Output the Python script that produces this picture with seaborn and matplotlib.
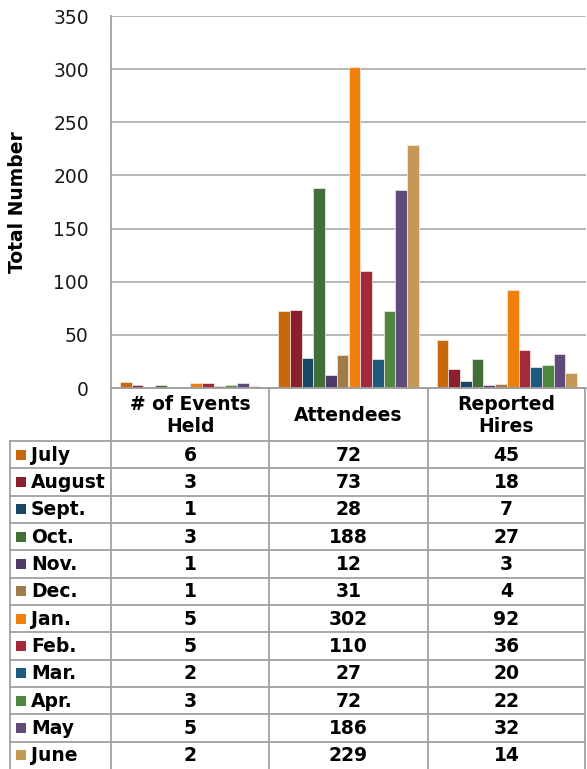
import matplotlib
matplotlib.use("Agg")
import matplotlib.pyplot as plt
import seaborn as sns
import pandas as pd
from matplotlib.patches import Rectangle

months = ["July", "August", "Sept.", "Oct.", "Nov.", "Dec.", "Jan.", "Feb.",
          "Mar.", "Apr.", "May", "June"]
categories = ["# of Events\nHeld", "Attendees", "Reported\nHires"]
events_held = [6, 3, 1, 3, 1, 1, 5, 5, 2, 3, 5, 2]
attendees = [72, 73, 28, 188, 12, 31, 302, 110, 27, 72, 186, 229]
reported_hires = [45, 18, 7, 27, 3, 4, 92, 36, 20, 22, 32, 14]
colors = ["#C8680A", "#8A1F2E", "#184766", "#426F37", "#4E3A66", "#9F7C4A",
          "#F0800D", "#A22A3A", "#1E5A80", "#4E8840", "#604A7C", "#C59858"]
yticks = [0, 50, 100, 150, 200, 250, 300, 350]

series = [events_held, attendees, reported_hires]
rows = []
for ci, cat in enumerate(categories):
    for mi, m in enumerate(months):
        rows.append({"Category": cat, "Month": m, "Value": series[ci][mi]})
df = pd.DataFrame(rows)

sns.set_style("white")
plt.rcParams["font.family"] = ["DejaVu Sans"]
plt.rcParams["text.color"] = "black"

W, H = 587, 769
fig = plt.figure(figsize=(W / 100, H / 100), dpi=100)

def fx(px):
    return px / W

def fy(py):
    return 1 - py / H

ax_left, ax_right, ax_top, ax_bot = 111, 586, 16, 388
ax = fig.add_axes([fx(ax_left), fy(ax_bot), fx(ax_right - ax_left), (ax_bot - ax_top) / H])
ax.set_facecolor("none")

sns.barplot(data=df, x="Category", y="Value", hue="Month", hue_order=months,
            palette=colors, width=0.886, ax=ax, legend=False,
            edgecolor="#F4EDE4", linewidth=0.5, saturation=1)

ax.set_ylim(0, 350)
ax.set_yticks(yticks)
ax.set_yticklabels([str(t) for t in yticks], fontsize=13.5, color="#1A1A1A")
ax.tick_params(axis="y", length=0, pad=16)
ax.set_xticks([])
ax.set_xlabel("")
ax.set_ylabel("Total Number", fontsize=13.5, fontweight="bold", color="black")
ax.yaxis.set_label_coords((27 - ax_left) / (ax_right - ax_left), 0.5)
ax.set_xlim(-0.5, 2.5)
ax.grid(axis="y", color="#B0B0B0", linewidth=1.3)
ax.set_axisbelow(True)
for s in ["top", "right"]:
    ax.spines[s].set_visible(False)
ax.spines["left"].set_color("#A0A0A0")
ax.spines["left"].set_linewidth(1.3)
ax.spines["bottom"].set_color("#A0A0A0")
ax.spines["bottom"].set_linewidth(1.3)

# table overlay in pixel coordinates
tab = fig.add_axes([0, 0, 1, 1], zorder=-1)
tab.set_xlim(0, W)
tab.set_ylim(H, 0)
tab.axis("off")

lc = "#A0A0A0"
lw = 1.3
col_x = [111, 269, 428, 585]
header_top, header_bot = 388, 441
row_h = (H - header_bot) / len(months)

for x in col_x:
    tab.plot([x, x], [header_top, H], color=lc, lw=lw)
tab.plot([10, 10], [header_bot, H], color=lc, lw=lw)
tab.plot([111, 585], [header_top, header_top], color=lc, lw=lw)
for k in range(len(months)):
    y = header_bot + k * row_h
    tab.plot([10, 585], [y, y], color=lc, lw=lw)

fs = 13.5
for ci, cat in enumerate(categories):
    cx = (col_x[ci] + col_x[ci + 1]) / 2
    tab.text(cx, (header_top + header_bot) / 2 + 1, cat, ha="center", va="center",
             fontsize=fs, fontweight="bold", linespacing=1.2, color="black")

for mi, m in enumerate(months):
    cy = header_bot + (mi + 0.5) * row_h
    tab.add_patch(Rectangle((16, cy - 5), 10, 10, color=colors[mi], lw=0))
    tab.text(31, cy + 0.5, m, ha="left", va="center", fontsize=fs,
             fontweight="bold", color="black")
    for ci in range(3):
        cx = (col_x[ci] + col_x[ci + 1]) / 2
        tab.text(cx, cy + 0.5, str(series[ci][mi]), ha="center", va="center",
                 fontsize=fs, fontweight="bold", color="black")

fig.savefig("out.png", dpi=100)
